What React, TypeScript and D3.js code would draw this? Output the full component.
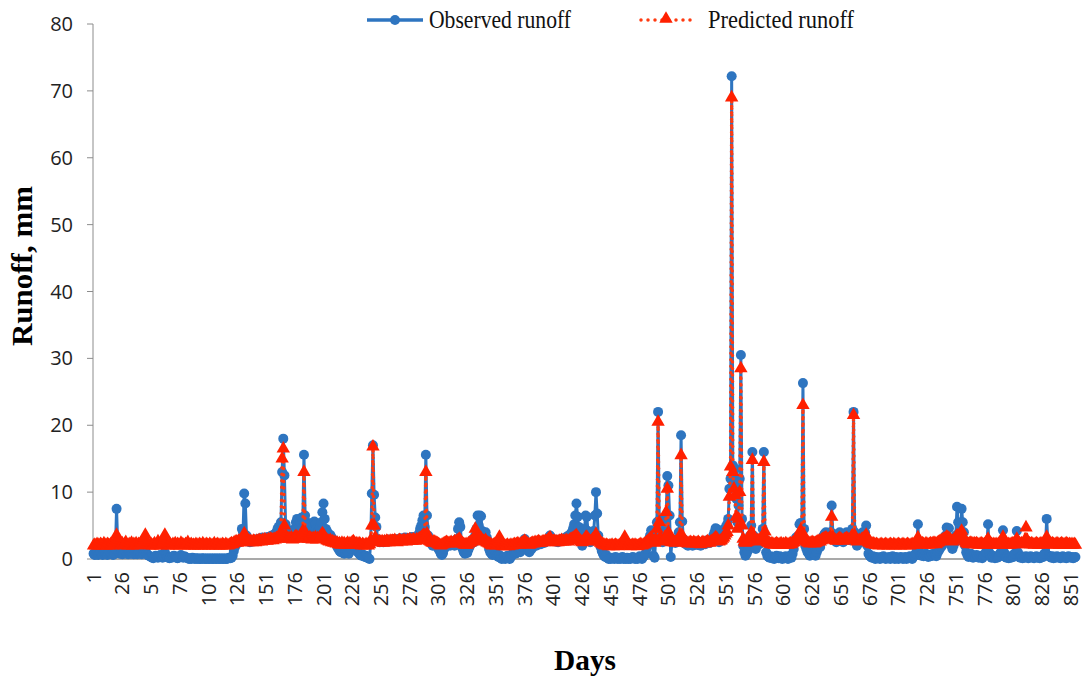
import * as d3 from 'd3';

// daily runoff, mm
const observedRunoff: number[] = [
  0.8, 0.6, 0.7, 0.9, 0.6, 0.8, 1.0, 0.7, 0.6, 0.9, 0.8, 0.7, 0.6, 0.9, 1.0, 0.8, 0.7, 0.6, 0.8, 1.5, 7.5, 2.0, 1.0, 0.8, 0.9, 0.7, 0.8, 0.9, 1.0, 0.8, 0.7, 0.9, 0.8, 1.0, 0.8, 0.7, 0.9, 0.8, 0.7, 0.9, 1.0, 0.8, 0.7, 0.9, 1.2, 1.5, 0.9, 0.6, 0.5, 0.4,
  0.3, 0.2, 0.1, 0.3, 0.5, 0.4, 0.2, 0.3, 0.6, 0.4, 0.2, 0.5, 1.0, 0.6, 0.3, 0.2, 0.1, 0.3, 0.2, 0.4, 0.5, 0.3, 0.2, 0.1, 0.2, 0.4, 0.6, 0.3, 0.2, 0.4, 0.3, 0.2, 0.1, 0.0, 0.1, 0.0, 0.2, 0.1, 0.0, 0.1, 0.0, 0.1, 0.0, 0.0, 0.1, 0.0, 0.1, 0.0, 0.0, 0.1,
  0.0, 0.0, 0.1, 0.0, 0.0, 0.1, 0.0, 0.0, 0.1, 0.0, 0.0, 0.1, 0.0, 0.0, 0.1, 0.0, 0.0, 0.1, 0.2, 0.1, 0.2, 0.5, 1.2, 1.8, 2.2, 2.5, 2.4, 2.8, 3.0, 4.5, 4.0, 9.8, 8.3, 3.5, 2.8, 2.6, 2.5, 2.7, 2.6, 2.8, 2.7, 2.9, 2.8, 3.0, 2.9, 3.1, 3.0, 3.2, 3.1, 3.0,
  3.2, 3.1, 3.3, 3.2, 3.4, 3.5, 3.3, 3.6, 3.8, 4.0, 4.5, 4.8, 5.0, 5.5, 13.0, 18.0, 12.5, 5.2, 4.5, 4.2, 4.0, 3.8, 4.2, 4.0, 3.6, 4.5, 5.5, 6.0, 5.2, 4.8, 5.5, 6.2, 5.8, 15.6, 6.5, 5.0, 4.6, 5.4, 5.2, 4.8, 4.4, 5.0, 5.6, 5.2, 4.5, 4.0, 4.3, 4.8, 5.5, 7.0,
  8.3, 6.0, 4.5, 4.2, 3.8, 3.5, 3.6, 3.2, 3.0, 2.8, 2.5, 2.2, 1.8, 1.5, 1.2, 1.0, 1.4, 1.1, 0.8, 1.0, 1.3, 1.0, 0.8, 1.2, 1.5, 2.0, 2.3, 1.8, 1.5, 1.2, 1.0, 0.8, 0.6, 0.5, 0.7, 0.4, 0.3, 0.5, 0.2, 0.1, 0.0, 2.5, 9.8, 17.0, 9.6, 6.2, 4.8, 3.0, 2.6, 2.5,
  2.6, 2.7, 2.5, 2.8, 2.6, 2.7, 2.9, 2.6, 2.8, 2.7, 2.9, 2.8, 3.0, 2.8, 2.7, 2.9, 3.0, 3.1, 2.9, 2.8, 3.0, 3.2, 3.0, 2.9, 3.1, 3.0, 3.2, 3.3, 3.1, 3.0, 3.2, 3.0, 3.4, 3.8, 4.5, 5.0, 5.8, 6.5, 4.8, 15.6, 6.5, 3.5, 2.8, 2.5, 2.2, 2.0, 2.4, 2.6, 2.2, 1.8,
  1.5, 1.2, 0.8, 0.6, 0.9, 1.5, 2.0, 2.2, 2.5, 2.3, 2.0, 2.4, 2.6, 2.2, 2.0, 2.5, 3.0, 4.5, 5.5, 4.8, 2.5, 1.5, 1.0, 0.8, 1.2, 0.9, 1.4, 1.8, 2.2, 2.6, 3.0, 2.5, 3.5, 4.5, 6.5, 5.0, 6.5, 6.4, 4.2, 3.8, 3.5, 4.0, 3.2, 2.5, 1.5, 1.0, 0.8, 0.6, 0.9, 1.2,
  0.8, 0.5, 0.3, 0.6, 0.2, 0.0, 0.1, 0.3, 0.0, 0.2, 0.5, 0.1, 0.0, 0.3, 0.6, 1.0, 1.2, 0.8, 1.0, 1.5, 1.2, 1.0, 1.4, 1.8, 2.2, 3.0, 2.5, 1.8, 1.2, 1.0, 1.3, 1.5, 1.8, 2.0, 2.2, 2.0, 2.3, 2.5, 2.4, 2.2, 2.5, 2.6, 2.4, 2.8, 2.6, 3.0, 3.2, 3.5, 3.0, 2.8,
  2.7, 2.9, 2.6, 2.8, 2.5, 2.7, 2.9, 3.0, 2.8, 3.1, 2.9, 3.2, 3.4, 3.0, 3.5, 3.8, 4.0, 4.5, 5.2, 6.5, 8.3, 6.3, 4.8, 3.5, 2.5, 2.0, 3.0, 4.5, 6.5, 6.3, 4.2, 3.0, 2.5, 2.8, 3.5, 4.2, 6.5, 10.0, 6.8, 3.5, 2.5, 1.8, 1.2, 0.8, 0.5, 0.3, 0.6, 0.2, 0.0, 0.1,
  0.0, 0.2, 0.1, 0.0, 0.3, 0.1, 0.0, 0.2, 0.0, 0.1, 0.3, 0.0, 0.1, 0.0, 0.2, 0.0, 0.1, 0.0, 0.2, 0.3, 0.1, 0.0, 0.2, 0.0, 0.1, 0.4, 0.2, 0.0, 0.3, 0.5, 0.8, 1.5, 2.0, 3.0, 3.5, 4.3, 3.0, 0.5, 0.2, 3.5, 5.5, 22.0, 5.8, 3.5, 2.8, 2.5, 3.0, 4.5, 6.0, 12.4,
  11.0, 6.5, 0.3, 2.5, 2.8, 2.6, 2.4, 2.7, 3.0, 4.0, 5.5, 18.5, 5.6, 3.0, 2.5, 2.2, 2.4, 2.0, 2.3, 2.5, 2.2, 2.0, 2.4, 2.6, 2.3, 2.1, 2.5, 2.2, 2.0, 2.3, 2.6, 2.4, 2.2, 2.5, 2.8, 2.6, 2.4, 2.7, 3.0, 3.5, 4.0, 4.6, 4.5, 3.0, 2.5, 2.8, 3.0, 3.5, 4.0, 4.5,
  4.8, 5.2, 6.0, 10.5, 12.0, 72.2, 14.0, 11.0, 13.5, 9.0, 5.5, 8.0, 12.0, 30.5, 6.0, 2.0, 1.0, 0.5, 0.8, 1.2, 2.0, 3.5, 5.0, 16.0, 3.5, 2.0, 1.5, 2.0, 2.5, 2.2, 2.8, 3.0, 4.5, 16.0, 3.0, 1.0, 0.5, 0.3, 0.2, 0.4, 0.1, 0.3, 0.0, 0.2, 0.5, 0.3, 0.1, 0.4, 0.2, 0.0,
  0.3, 0.1, 0.4, 0.2, 0.0, 0.3, 0.5, 0.2, 0.8, 1.5, 2.5, 3.2, 3.0, 3.5, 5.2, 5.4, 4.0, 26.3, 4.5, 2.0, 1.5, 1.0, 0.8, 0.5, 0.7, 1.0, 1.2, 0.8, 0.5, 1.0, 1.5, 2.0, 1.8, 2.5, 3.0, 3.5, 3.8, 4.0, 3.5, 3.2, 3.8, 4.0, 8.0, 3.8, 3.5, 3.0, 2.5, 2.8, 3.6, 4.0,
  3.5, 3.0, 2.5, 3.2, 3.8, 4.0, 3.5, 3.0, 2.8, 3.5, 4.5, 22.0, 4.0, 2.5, 2.0, 2.8, 3.0, 2.5, 3.2, 4.0, 3.5, 4.0, 5.0, 2.0, 0.8, 0.5, 0.3, 0.2, 0.4, 0.1, 0.0, 0.3, 0.1, 0.2, 0.0, 0.3, 0.1, 0.4, 0.2, 0.0, 0.2, 0.1, 0.3, 0.0, 0.2, 0.4, 0.1, 0.0, 0.3, 0.2,
  0.0, 0.1, 0.3, 0.2, 0.0, 0.1, 0.3, 0.0, 0.2, 0.1, 0.4, 0.2, 0.0, 0.3, 0.5, 0.8, 1.5, 5.2, 1.2, 0.6, 0.5, 0.7, 0.4, 0.6, 0.8, 0.5, 0.3, 0.6, 0.4, 0.7, 0.5, 0.8, 0.6, 0.4, 0.9, 1.2, 1.5, 1.8, 2.0, 2.5, 3.0, 3.5, 4.7, 4.5, 4.6, 3.0, 2.0, 1.5, 2.0, 2.5,
  3.5, 7.8, 5.5, 4.0, 3.0, 7.5, 5.5, 4.0, 2.0, 1.0, 0.6, 0.3, 0.5, 0.8, 0.4, 0.2, 0.5, 0.3, 0.6, 0.4, 0.2, 0.5, 0.3, 0.1, 0.4, 0.6, 1.0, 2.0, 5.2, 1.0, 0.4, 0.2, 0.5, 0.3, 0.1, 0.4, 0.2, 0.3, 0.5, 1.0, 2.0, 4.3, 1.0, 0.3, 0.2, 0.4, 0.1, 0.3, 0.2, 0.5,
  0.3, 0.8, 2.0, 4.2, 1.0, 0.3, 0.2, 0.4, 0.1, 0.3, 0.2, 0.4, 0.3, 0.1, 0.2, 0.4, 0.3, 0.2, 0.1, 0.3, 0.4, 0.2, 0.3, 0.1, 0.2, 0.4, 0.3, 0.8, 2.0, 6.0, 2.5, 0.5, 0.3, 0.2, 0.4, 0.1, 0.3, 0.2, 0.4, 0.3, 0.2, 0.1, 0.3, 0.4, 0.2, 0.3, 0.1, 0.2, 0.4, 0.3,
  0.2, 0.3, 0.1, 0.2, 0.3,
];

const predictedRunoff: number[] = [
  2.0, 2.1, 2.0, 2.2, 2.1, 2.0, 2.2, 2.1, 2.0, 2.3, 2.1, 2.0, 2.2, 2.1, 2.0, 2.2, 2.1, 2.0, 2.3, 2.6, 3.6, 2.8, 2.4, 2.2, 2.1, 2.3, 2.0, 2.2, 2.5, 2.1, 2.0, 2.2, 2.1, 2.4, 2.0, 2.2, 2.1, 2.3, 2.0, 2.2, 2.1, 2.3, 2.2, 2.5, 2.8, 3.6, 2.6, 2.3, 2.1, 2.0,
  2.2, 2.0, 2.1, 2.3, 2.0, 2.1, 2.6, 2.2, 2.0, 2.1, 2.3, 2.8, 3.6, 2.5, 2.1, 2.0, 2.2, 2.1, 2.0, 2.2, 2.1, 2.3, 2.0, 2.2, 2.1, 2.0, 2.4, 2.2, 2.1, 2.0, 2.2, 2.1, 2.5, 2.0, 2.1, 2.2, 2.0, 2.1, 2.0, 2.2, 2.1, 2.0, 2.2, 2.1, 2.0, 2.3, 2.1, 2.0, 2.2, 2.1,
  2.0, 2.2, 2.1, 2.0, 2.1, 2.3, 2.0, 2.1, 2.2, 2.0, 2.1, 2.0, 2.2, 2.1, 2.0, 2.2, 2.1, 2.0, 2.1, 2.2, 2.3, 2.2, 2.4, 2.5, 2.6, 2.4, 2.7, 2.5, 2.8, 3.0, 3.2, 3.8, 3.5, 2.9, 2.6, 2.5, 2.7, 2.6, 2.5, 2.7, 2.6, 2.5, 2.7, 2.6, 2.8, 2.7, 2.6, 2.8, 2.7, 2.9,
  2.8, 2.7, 2.9, 2.8, 3.0, 2.9, 2.8, 3.0, 2.9, 3.1, 3.0, 3.2, 3.5, 4.0, 15.0, 16.5, 5.0, 3.5, 3.2, 3.0, 3.1, 3.0, 3.2, 2.9, 3.0, 3.2, 3.4, 3.3, 3.1, 3.0, 3.2, 3.4, 4.2, 13.0, 4.0, 3.3, 3.1, 3.0, 3.2, 3.1, 2.9, 3.1, 3.0, 3.2, 2.9, 3.1, 3.0, 3.3, 3.5, 3.8,
  3.6, 3.2, 3.0, 2.8, 2.7, 2.6, 2.8, 2.5, 2.6, 2.4, 2.5, 2.3, 2.4, 2.2, 2.3, 2.1, 2.4, 2.2, 2.3, 2.1, 2.2, 2.4, 2.1, 2.3, 2.2, 2.5, 2.6, 2.4, 2.2, 2.3, 2.1, 2.3, 2.2, 2.0, 2.2, 2.1, 2.0, 2.2, 2.1, 2.0, 2.2, 2.8, 5.0, 16.8, 5.0, 3.2, 2.8, 2.6, 2.5, 2.6,
  2.5, 2.6, 2.4, 2.6, 2.5, 2.7, 2.6, 2.5, 2.7, 2.6, 2.7, 2.6, 2.8, 2.6, 2.5, 2.7, 2.8, 2.7, 2.6, 2.7, 2.8, 2.7, 2.6, 2.8, 2.7, 2.9, 2.8, 2.7, 2.9, 2.8, 2.7, 2.9, 2.8, 3.0, 3.1, 3.2, 3.4, 3.6, 3.5, 13.0, 3.8, 3.0, 2.7, 2.6, 2.5, 2.4, 2.6, 2.5, 2.4, 2.3,
  2.2, 2.1, 2.0, 2.1, 2.2, 2.3, 2.4, 2.5, 2.4, 2.3, 2.4, 2.5, 2.3, 2.4, 2.6, 2.5, 2.7, 2.8, 3.0, 2.8, 2.5, 2.3, 2.2, 2.1, 2.2, 2.1, 2.3, 2.4, 2.5, 2.6, 2.8, 3.2, 4.5, 3.0, 3.2, 3.0, 2.9, 3.1, 2.8, 2.7, 2.6, 2.8, 2.5, 2.4, 2.3, 2.2, 2.1, 2.0, 2.1, 2.2,
  2.0, 2.1, 2.2, 3.3, 2.2, 2.0, 1.9, 2.0, 1.9, 2.0, 2.1, 1.9, 2.0, 2.1, 2.0, 2.1, 2.2, 2.1, 2.2, 2.3, 2.2, 2.1, 2.3, 2.4, 2.5, 2.7, 2.5, 2.3, 2.2, 2.1, 2.2, 2.3, 2.4, 2.3, 2.5, 2.4, 2.5, 2.6, 2.5, 2.4, 2.5, 2.6, 2.5, 2.7, 2.6, 2.8, 3.0, 3.2, 2.8, 2.6,
  2.6, 2.7, 2.5, 2.6, 2.5, 2.7, 2.6, 2.8, 2.6, 2.7, 2.6, 2.8, 2.7, 2.6, 2.8, 2.9, 3.0, 3.1, 3.2, 3.4, 3.5, 3.2, 3.0, 2.8, 2.6, 2.5, 2.7, 2.9, 3.2, 3.3, 3.0, 2.8, 2.6, 2.7, 2.9, 3.0, 3.3, 3.7, 3.2, 2.8, 2.6, 2.4, 2.3, 2.2, 2.1, 2.0, 2.1, 2.0, 1.9, 2.0,
  2.0, 2.1, 1.9, 2.0, 2.1, 2.0, 1.9, 2.0, 2.1, 2.0, 2.1, 2.2, 3.3, 2.2, 2.0, 2.1, 2.0, 1.9, 2.0, 2.1, 2.0, 2.1, 2.0, 1.9, 2.0, 2.1, 2.2, 2.0, 2.1, 2.2, 2.3, 2.5, 2.6, 2.8, 3.0, 3.2, 2.8, 2.5, 2.4, 3.0, 4.5, 20.5, 5.5, 3.2, 2.8, 2.6, 2.8, 3.2, 7.0, 10.5,
  4.0, 3.0, 2.6, 2.5, 2.6, 2.5, 2.4, 2.6, 2.8, 3.0, 3.5, 15.5, 3.5, 2.8, 2.6, 2.5, 2.4, 2.3, 2.4, 2.5, 2.4, 2.3, 2.5, 2.4, 2.3, 2.4, 2.5, 2.3, 2.2, 2.4, 2.5, 2.4, 2.3, 2.5, 2.6, 2.5, 2.4, 2.6, 2.7, 2.8, 3.0, 3.2, 3.1, 2.8, 2.6, 2.7, 2.8, 3.0, 3.2, 3.5,
  3.8, 4.0, 5.0, 9.3, 13.8, 69.0, 13.0, 10.5, 9.5, 6.3, 4.5, 6.0, 10.0, 28.5, 5.0, 3.0, 2.6, 2.4, 2.5, 2.6, 2.8, 3.0, 4.0, 14.8, 3.5, 2.8, 2.6, 2.7, 2.8, 2.7, 2.9, 3.0, 3.5, 14.5, 4.1, 2.8, 2.5, 2.4, 2.3, 2.2, 2.3, 2.2, 2.1, 2.2, 2.3, 2.2, 2.1, 2.2, 2.3, 2.1,
  2.2, 2.1, 2.3, 2.2, 2.1, 2.2, 2.3, 2.2, 2.4, 2.5, 2.7, 2.9, 2.8, 3.0, 3.5, 4.3, 3.8, 23.0, 3.5, 2.8, 2.6, 2.5, 2.4, 2.3, 2.4, 2.5, 2.4, 2.3, 2.4, 2.5, 2.6, 2.7, 2.6, 2.8, 2.9, 3.0, 3.1, 3.2, 3.0, 2.9, 3.1, 3.3, 6.3, 3.2, 3.0, 2.8, 2.7, 2.8, 3.0, 3.1,
  3.0, 2.8, 2.7, 2.9, 3.0, 3.1, 3.0, 2.8, 2.9, 3.2, 3.5, 21.5, 3.5, 2.8, 2.6, 2.7, 2.8, 2.7, 2.9, 3.0, 3.1, 3.3, 3.6, 2.8, 2.5, 2.4, 2.3, 2.2, 2.3, 2.2, 2.1, 2.2, 2.1, 2.0, 2.1, 2.2, 2.1, 2.0, 2.1, 2.2, 2.1, 2.0, 2.1, 2.2, 2.1, 2.0, 2.2, 2.1, 2.0, 2.1,
  2.2, 2.1, 2.0, 2.1, 2.2, 2.1, 2.0, 2.1, 2.2, 2.1, 2.0, 2.1, 2.2, 2.1, 2.2, 2.3, 2.5, 3.2, 2.6, 2.3, 2.2, 2.3, 2.2, 2.1, 2.3, 2.2, 2.1, 2.2, 2.3, 2.2, 2.3, 2.4, 2.3, 2.2, 2.4, 2.5, 2.6, 2.7, 2.8, 2.9, 3.0, 3.1, 3.3, 3.2, 3.1, 2.9, 2.7, 2.6, 2.8, 3.0,
  3.2, 3.5, 3.3, 3.5, 3.8, 4.2, 3.4, 3.0, 2.6, 2.4, 2.3, 2.2, 2.3, 2.4, 2.3, 2.2, 2.3, 2.2, 2.3, 2.2, 2.1, 2.2, 2.3, 2.2, 2.1, 2.2, 2.4, 2.6, 3.0, 2.5, 2.3, 2.2, 2.1, 2.2, 2.1, 2.2, 2.1, 2.2, 2.3, 2.5, 2.7, 3.3, 2.6, 2.3, 2.2, 2.1, 2.2, 2.1, 2.2, 2.3,
  2.2, 2.4, 2.6, 3.0, 2.5, 2.3, 2.2, 2.3, 2.2, 2.4, 2.8, 4.7, 2.8, 2.4, 2.3, 2.2, 2.3, 2.2, 2.1, 2.2, 2.3, 2.2, 2.1, 2.2, 2.3, 2.2, 2.1, 2.3, 2.6, 3.3, 2.7, 2.4, 2.3, 2.2, 2.3, 2.2, 2.1, 2.2, 2.3, 2.2, 2.1, 2.2, 2.3, 2.2, 2.1, 2.2, 2.3, 2.2, 2.1, 2.2,
  2.1, 2.2, 2.1, 2.2, 2.1,
];

const dayTicks = [1, 26, 51, 76, 101, 126, 151, 176, 201, 226, 251, 276, 301, 326, 351, 376, 401, 426, 451, 476, 501, 526, 551, 576, 601, 626, 651, 676, 701, 726, 751, 776, 801, 826, 851];
const runoffTicks = [0, 10, 20, 30, 40, 50, 60, 70, 80];

const BLUE = '#2E75C0';
const RED_LINE = '#FF3A10';
const RED_MARK = '#FF2000';
const AXIS = '#8C8C8C';
const TICK_FONT = '"Open Sans", "Noto Sans", sans-serif';
const SERIF = '"Liberation Serif", "Times New Roman", serif';

const width = 1083;
const height = 677;
const plot = { left: 93, right: 1076, top: 24, bottom: 559 };

export default function App() {
  const days = observedRunoff.map((_, i) => i + 1);

  const x = d3.scaleBand<number>().domain(days).range([plot.left, plot.right]);
  const cx = (d: number) => (x(d) ?? 0) + x.bandwidth() / 2;
  const y = d3.scaleLinear().domain([0, 80]).range([plot.bottom, plot.top]);

  const line = d3.line<number>()
    .x((_, i) => cx(i + 1))
    .y((v) => y(v));

  const triangle = d3.symbol(d3.symbolTriangle, 78)() ?? '';

  return (
    <svg width={width} height={height} style={{ position: 'absolute', left: 0, top: 0 }}>
      <rect width={width} height={height} fill="#fff" />

      {/* y axis */}
      <line x1={plot.left} x2={plot.left} y1={plot.top} y2={plot.bottom} stroke={AXIS} strokeWidth={1} />
      {runoffTicks.map((t) => (
        <g key={t}>
          <line x1={plot.left - 6} x2={plot.left} y1={y(t)} y2={y(t)} stroke={AXIS} strokeWidth={1} />
          <text x={73} y={y(t)} dy="0.35em" textAnchor="end" fontFamily={TICK_FONT} fontSize={20} fill="#222">
            {t}
          </text>
        </g>
      ))}

      {/* x axis */}
      <line x1={plot.left} x2={plot.right} y1={plot.bottom} y2={plot.bottom} stroke={AXIS} strokeWidth={1.5} />
      {dayTicks.map((d) => (
        <text
          key={d}
          transform={`translate(${cx(d)},${plot.bottom + 13}) rotate(-90)`}
          dy="0.35em"
          textAnchor="end"
          fontFamily={TICK_FONT}
          fontSize={20}
          fill="#222"
        >
          {d}
        </text>
      ))}

      {/* observed series */}
      <path d={line(observedRunoff) ?? ''} fill="none" stroke={BLUE} strokeWidth={3} strokeLinejoin="round" />
      {observedRunoff.map((v, i) => (
        <circle key={'o' + i} cx={cx(i + 1)} cy={y(v)} r={5} fill={BLUE} />
      ))}

      {/* predicted series */}
      <path
        d={line(predictedRunoff) ?? ''}
        fill="none"
        stroke={RED_LINE}
        strokeWidth={3.5}
        strokeDasharray="0 6.5"
        strokeLinecap="round"
      />
      {predictedRunoff.map((v, i) => (
        <path key={'p' + i} d={triangle} transform={`translate(${cx(i + 1)},${y(v)})`} fill={RED_MARK} />
      ))}

      {/* legend */}
      <g>
        <line x1={367} x2={423} y1={20} y2={20} stroke={BLUE} strokeWidth={3.5} />
        <circle cx={395} cy={20} r={5} fill={BLUE} />
        <text x={429} y={28} fontFamily={SERIF} fontSize={26} textLength={142} lengthAdjust="spacingAndGlyphs" fill="#111">
          Observed runoff
        </text>

        <line x1={641} x2={692} y1={20} y2={20} stroke={RED_LINE} strokeWidth={3.5} strokeDasharray="0 7" strokeLinecap="round" />
        <path d={triangle} transform="translate(666,19)" fill={RED_MARK} />
        <text x={708} y={28} fontFamily={SERIF} fontSize={26} textLength={146} lengthAdjust="spacingAndGlyphs" fill="#111">
          Predicted runoff
        </text>
      </g>

      {/* axis titles */}
      <text
        transform="translate(32,266) rotate(-90)"
        textAnchor="middle"
        fontFamily={SERIF}
        fontWeight="bold"
        fontSize={30}
        textLength={160}
        lengthAdjust="spacingAndGlyphs"
        fill="#000"
      >
        Runoff, mm
      </text>
      <text x={585} y={670} textAnchor="middle" fontFamily={SERIF} fontWeight="bold" fontSize={30} textLength={62} lengthAdjust="spacingAndGlyphs" fill="#000">
        Days
      </text>
    </svg>
  );
}
